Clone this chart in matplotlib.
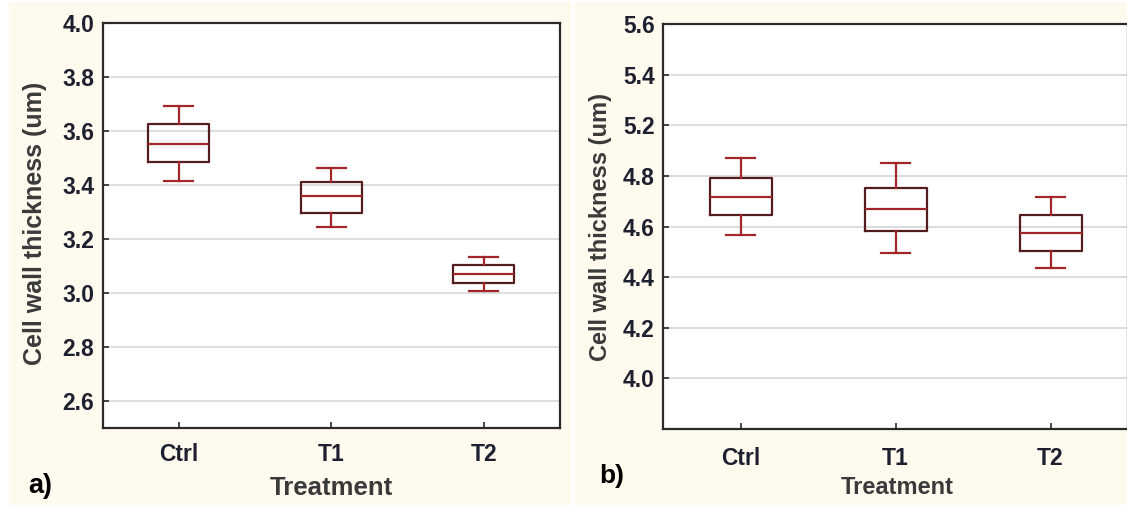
import matplotlib
matplotlib.use('Agg')
import matplotlib.pyplot as plt
from matplotlib.patches import Rectangle

# treatments
groups = ['Ctrl', 'T1', 'T2']

# panel a) box stats
a_whislo = [3.415, 3.244, 3.006]
a_q1 = [3.483, 3.296, 3.037]
a_med = [3.551, 3.358, 3.068]
a_q3 = [3.623, 3.409, 3.104]
a_whishi = [3.690, 3.460, 3.133]
a_ticks = [2.6, 2.8, 3.0, 3.2, 3.4, 3.6, 3.8, 4.0]
a_ticklabels = ['2.6', '2.8', '3.0', '3.2', '3.4', '3.6', '3.8', '4.0']

# panel b) box stats
b_whislo = [4.567, 4.497, 4.435]
b_q1 = [4.646, 4.583, 4.503]
b_med = [4.715, 4.671, 4.575]
b_q3 = [4.793, 4.754, 4.646]
b_whishi = [4.872, 4.850, 4.715]
# the original axis labels skip 5.0
b_ticks = [4.0, 4.2, 4.4, 4.6, 4.8, 5.0, 5.2, 5.4]
b_ticklabels = ['4.0', '4.2', '4.4', '4.6', '4.8', '5.2', '5.4', '5.6']

W, H = 1127, 509
fig = plt.figure(figsize=(W / 100, H / 100), dpi=100)
fig.patch.set_facecolor('white')

cream = '#fffaee'
fig.patches.append(Rectangle((9 / W, 1 - 505 / H), (571 - 9) / W, (505 - 2) / H,
                             transform=fig.transFigure, facecolor=cream, edgecolor='none', zorder=-10))
fig.patches.append(Rectangle((575 / W, 1 - 505 / H), (W - 575) / W, (505 - 2) / H,
                             transform=fig.transFigure, facecolor=cream, edgecolor='none', zorder=-10))

font = 'Liberation Sans'
tick_col = '#1e2030'
label_col = '#3a3a3a'
box_col = '#541c1c'
red = '#a3262b'


def make_stats(lo, q1, med, q3, hi):
    return [dict(whislo=lo[i], q1=q1[i], med=med[i], q3=q3[i], whishi=hi[i],
                 fliers=[], label=groups[i]) for i in range(len(groups))]


def draw_panel(rect, stats, ylim, ticks, ticklabels, xpad):
    ax = fig.add_axes(rect)
    ax.set_facecolor('white')
    ax.bxp(stats, positions=range(len(groups)), widths=0.4, capwidths=0.19,
           showfliers=False, patch_artist=False,
           boxprops=dict(color=box_col, linewidth=1.6),
           medianprops=dict(color=red, linewidth=1.6),
           whiskerprops=dict(color=red, linewidth=1.6),
           capprops=dict(color=red, linewidth=1.6))
    ax.set_xlim(-0.5, 2.5)
    ax.set_ylim(*ylim)
    ax.set_yticks(ticks)
    ax.set_yticklabels(ticklabels)
    ax.set_xticks(range(len(groups)))
    ax.set_xticklabels(groups)
    ax.grid(axis='y', color='#d9d9d9', linewidth=1.3)
    ax.set_axisbelow(True)
    for s in ax.spines.values():
        s.set_color('#2a2a2a')
        s.set_linewidth(1.6)
    ax.tick_params(axis='y', direction='in', length=4, width=1.2, color='#2a2a2a',
                   pad=6, labelsize=16.5, labelcolor=tick_col)
    ax.tick_params(axis='x', direction='in', length=4, width=1.2, color='#2a2a2a',
                   pad=xpad, labelsize=16.5, labelcolor=tick_col)
    for t in ax.get_xticklabels() + ax.get_yticklabels():
        t.set_fontweight('bold')
        t.set_fontfamily(font)
    return ax


ax1 = draw_panel([102.5 / W, 1 - 428 / H, 457.5 / W, 405.5 / H],
                 make_stats(a_whislo, a_q1, a_med, a_q3, a_whishi),
                 (2.5, 4.0), a_ticks, a_ticklabels, 11)
ax2 = draw_panel([663 / W, 1 - 429 / H, 465 / W, 405 / H],
                 make_stats(b_whislo, b_q1, b_med, b_q3, b_whishi),
                 (3.8, 5.4), b_ticks, b_ticklabels, 13)

fig.text(35 / W, 1 - 223 / H, 'Cell wall thickness (um)', rotation=90, ha='center', va='center',
         fontsize=18, fontweight='bold', color=label_col, family=font)
fig.text(600 / W, 1 - 227 / H, 'Cell wall thickness (um)', rotation=90, ha='center', va='center',
         fontsize=17, fontweight='bold', color=label_col, family=font)
fig.text(331 / W, 1 - 488 / H, 'Treatment', ha='center', va='center',
         fontsize=18.5, fontweight='bold', color=label_col, family=font)
fig.text(897 / W, 1 - 488 / H, 'Treatment', ha='center', va='center',
         fontsize=17, fontweight='bold', color=label_col, family=font)
fig.text(40 / W, 1 - 486 / H, 'a)', ha='center', va='center',
         fontsize=19.5, fontweight='bold', color='black', family=font)
fig.text(612 / W, 1 - 476 / H, 'b)', ha='center', va='center',
         fontsize=19, fontweight='bold', color='black', family=font)

fig.savefig('out.png', dpi=100, facecolor=fig.get_facecolor())
